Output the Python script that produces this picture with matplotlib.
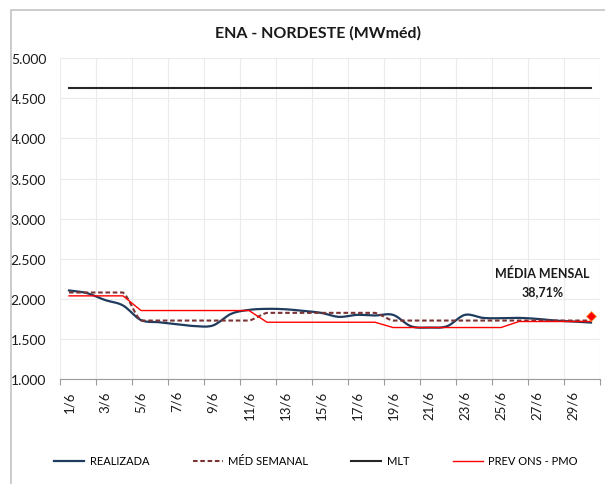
import numpy as np
import matplotlib
matplotlib.use("Agg")
import matplotlib.pyplot as plt
from matplotlib.patches import Rectangle

plt.rcParams['font.family'] = ['Lato', 'DejaVu Sans']

# data (MWmed)
days = list(range(1, 31))
day_labels = [f"{d}/6" for d in days]
realizada = [2104, 2071, 1985, 1917, 1735, 1708, 1683, 1660, 1668, 1812,
             1862, 1875, 1870, 1850, 1825, 1775, 1800, 1792, 1800, 1658,
             1642, 1658, 1800, 1762, 1758, 1762, 1750, 1729, 1717, 1704]
med_semanal = [2079] * 4 + [1729] * 7 + [1825] * 7 + [1729] * 7 + [1729] * 5
mlt = [4629] * 30
prev_ons = [2037] * 4 + [1854] * 7 + [1708] * 7 + [1642] * 7 + [1717] * 5
media_mensal_x = 30
media_mensal_y = 1790
media_mensal_txt = "MÉDIA MENSAL\n38,71%"


def smooth(x, y, n=12, clamp=False):
    # excel-style smoothed line (catmull-rom -> bezier)
    x = np.asarray(x, float)
    y = np.asarray(y, float)
    px = np.concatenate([[x[0]], x, [x[-1]]])
    py = np.concatenate([[y[0]], y, [y[-1]]])
    t = np.linspace(0, 1, n)[:, None]
    xs, ys = [], []
    for i in range(1, len(px) - 2):
        p0 = np.array([px[i], py[i]])
        p3 = np.array([px[i + 1], py[i + 1]])
        p1 = p0 + (p3 - np.array([px[i - 1], py[i - 1]])) / 6
        p2 = p3 - (np.array([px[i + 2], py[i + 2]]) - p0) / 6
        if clamp:
            lo, hi = min(p0[1], p3[1]), max(p0[1], p3[1])
            p1[1] = np.clip(p1[1], lo, hi)
            p2[1] = np.clip(p2[1], lo, hi)
        seg = ((1 - t) ** 3) * p0 + 3 * ((1 - t) ** 2) * t * p1 \
            + 3 * (1 - t) * t ** 2 * p2 + t ** 3 * p3
        xs.append(seg[:, 0])
        ys.append(seg[:, 1])
    return np.concatenate(xs), np.concatenate(ys)


fig = plt.figure(figsize=(6.05, 4.85), dpi=100)
ax = fig.add_axes([60 / 605, 1 - 380 / 485, 540 / 605, (380 - 59.3) / 485])

# outer chart frame
fig.patches.append(Rectangle((11.5 / 605, -0.1), 1.2, 1 - 11 / 485 + 0.1,
                             transform=fig.transFigure, fill=False,
                             edgecolor='#C4C4C4', lw=1.2))

sx, sy = smooth(days, realizada)
l1, = ax.plot(sx, sy, color='#1F3B5E', lw=1.6, label='REALIZADA')
mx, my = smooth(days, med_semanal, clamp=True)
l2, = ax.plot(mx, my, color='#7B3434', lw=1.5, ls=(0, (2.2, 1.3)),
              label='MÉD SEMANAL')
l3, = ax.plot(days, mlt, color='#262626', lw=1.5, label='MLT')
l4, = ax.plot(days, prev_ons, color='#FF0000', lw=1.0, label='PREV ONS - PMO')
ax.plot([media_mensal_x], [media_mensal_y], marker='D', ms=5,
        color='#FF0000', mec='#F4A040', mew=0.6)
ax.text(27.3, 2212, media_mensal_txt, ha='center', va='center',
        fontsize=9, fontweight='bold', linespacing=1.6, color='#1a1a1a')

ax.set_xlim(0.5, 30.5)
ax.set_ylim(1000, 5000)
ax.set_yticks(np.arange(1000, 5001, 500))
ax.set_yticklabels([f"{v:,}".replace(",", ".") for v in range(1000, 5001, 500)])
ax.set_xticks(days[::2])
ax.set_xticklabels(day_labels[::2], rotation=90)
ax.set_xticks(np.arange(0.5, 30.6, 2), minor=True)

ax.grid(axis='y', color='#EBEBEB', lw=0.8)
ax.grid(axis='x', which='minor', color='#EBEBEB', lw=0.8)
ax.set_axisbelow(True)
ax.tick_params(axis='y', length=0, pad=10, labelsize=10, labelcolor='#1a1a1a')
ax.tick_params(axis='x', which='major', length=0, pad=8, labelsize=9.5,
               labelcolor='#1a1a1a')
ax.tick_params(axis='x', which='minor', length=4, color='#9A9A9A', width=0.8)
for s in ['top', 'right', 'left']:
    ax.spines[s].set_visible(False)
ax.spines['bottom'].set_color('#9A9A9A')
ax.spines['bottom'].set_linewidth(0.8)

fig.text(318 / 605, 1 - 33 / 485, 'ENA - NORDESTE (MWméd)', ha='center',
         va='center', fontsize=11.5, fontweight='bold', color='#1a1a1a')

fig.legend(handles=[l1, l2, l3, l4], loc='center',
           bbox_to_anchor=(316 / 605, 1 - 462 / 485), ncol=4, frameon=False,
           fontsize=8, handlelength=2.7, handletextpad=0.5,
           columnspacing=3.9)

fig.savefig('out.png', dpi=100)
